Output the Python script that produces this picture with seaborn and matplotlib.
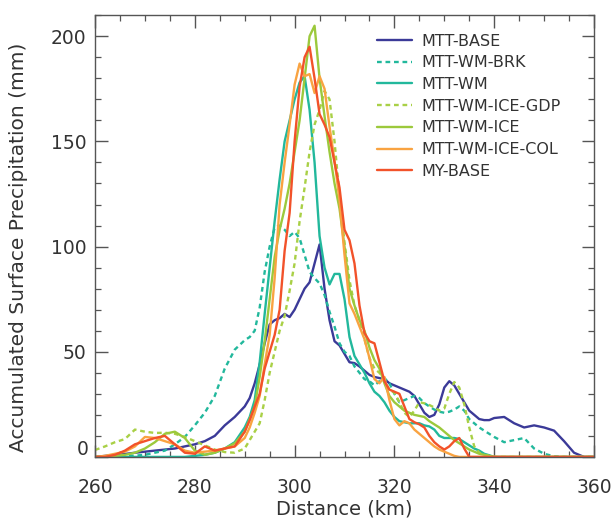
import numpy as np
import pandas as pd
import matplotlib
matplotlib.use("Agg")
import matplotlib.pyplot as plt
import seaborn as sns
from matplotlib.ticker import MultipleLocator, FuncFormatter

# distance grid (km)
distance = [260, 262, 264, 266, 268, 270, 272, 274, 276, 278, 280, 282, 284, 286, 288] + \
    list(range(290, 341)) + [342, 344, 346, 348, 350, 352, 354, 356, 358, 360]

mtt_base = [0, 0.5, 1, 1.4, 2, 2.5, 3, 3.5, 4, 5, 6, 7.5, 10, 15, 19,
            24, 28, 35, 44, 54, 63, 65, 66, 68, 66.5, 70, 75, 80, 83, 92, 101,
            80, 65, 55, 53, 49, 45, 44.6, 43, 41, 39, 38, 37.5, 37, 35, 34,
            33, 32, 31, 29, 25, 21, 19, 20, 25, 33, 36, 34, 30, 26, 22,
            20, 18, 17.5, 17.5, 18.5,
            19, 16, 14, 15, 14, 12.5, 7.5, 2, 0, 0]

mtt_wm_brk = [0, 0, 0, 0.3, 0.6, 1, 2, 3, 6, 9.5, 15, 21, 29, 42, 51,
              55.5, 57, 60, 71, 88, 100, 109, 110, 108, 105, 107, 104, 96, 88, 85, 82.5,
              77, 69, 62, 54, 50, 48, 43, 40, 37, 36, 34, 36, 37.5, 35, 30,
              26, 27, 28, 29, 28, 25.6, 24, 22.5, 21.5, 21, 21.5, 22.5, 24, 22, 18,
              16, 14, 12.5, 11, 9.5,
              7, 8, 9, 4, 1.5, 0.3, 0, 0, 0, 0]

mtt_wm = [0, 0, 0, 0, 0, 0, 0, 0, 0, 0, 0.5, 1, 2, 4, 7,
          14, 19, 27, 45, 68, 90, 112, 132, 150, 160, 170, 178, 181, 165, 140, 105,
          90, 82, 87, 87, 75, 57, 48, 44, 40, 35, 31, 29, 26, 22, 19,
          17, 16.5, 16, 16, 16, 15, 14.5, 13, 10, 9, 9, 9, 8.5, 7, 5.5,
          4, 3, 1.5, 0.8, 0,
          0, 0, 0, 0, 0, 0, 0, 0, 0, 0]

mtt_wm_ice_gdp = [3.3, 5, 7, 8.5, 13, 12, 11.4, 11.5, 11, 9.5, 7.5, 5.5, 3.5, 2.3, 2,
                  4, 8, 12, 16, 27, 40, 50, 60, 67, 79, 92, 112, 128, 145, 158, 165,
                  174, 170, 150, 124, 102, 84, 72, 65, 56, 47, 42, 40, 36, 32, 30.5,
                  26, 21, 19, 22, 26, 25.5, 24.7, 23.5, 22, 23, 30, 35.6, 33, 25, 14,
                  5, 2, 1, 0.5, 0,
                  0, 0, 0, 0, 0, 0, 0, 0, 0, 0]

mtt_wm_ice = [0, 0, 0.5, 1, 2, 4, 7, 11, 12, 9, 3, 1, 2, 4, 6.5,
              12, 18, 24, 38, 55, 75, 95, 108, 118, 130, 145, 160, 180, 200, 205, 180,
              162, 145, 130, 118, 100, 80, 72, 65, 60, 52, 46, 42, 35, 29, 26,
              24, 22, 21, 20, 19.5, 19, 17, 15.5, 14, 12, 10, 8, 6.5, 5, 3.5,
              2.5, 1.5, 1, 0.5, 0,
              0, 0, 0, 0, 0, 0, 0, 0, 0, 0]

mtt_wm_ice_col = [0, 0.5, 1.5, 2.5, 5, 9.5, 9, 7.5, 6, 3, 2, 2.5, 3, 4, 5,
                  9, 14, 21, 29, 44, 58, 85, 120, 140, 158, 177, 187, 181, 182, 173, 181,
                  175, 157, 141, 122, 96, 73, 68, 62, 56, 47, 37, 35, 38, 27, 18,
                  15, 17, 16, 13, 11, 9, 7, 5, 3.5, 2.5, 1.5, 0.5, 0, 0, 0,
                  0, 0, 0, 0, 0,
                  0, 0, 0, 0, 0, 0, 0, 0, 0, 0]

my_base = [0, 0, 1, 3, 6, 7.5, 9, 10, 6, 2, 1.5, 5, 3, 4, 5,
           12, 17.5, 24, 30, 42, 50, 58, 70, 98, 116, 150, 176, 190, 195, 180, 163,
           158, 152, 140, 128, 108, 103, 92, 72, 59, 55, 54, 45, 36, 32, 31,
           30, 24, 18, 16.5, 15.5, 14, 10, 7, 5, 3.5, 5, 7.5, 9, 4, 0,
           0, 0, 0, 0, 0,
           0, 0, 0, 0, 0, 0, 0, 0, 0, 0]

series_names = ["MTT-BASE", "MTT-WM-BRK", "MTT-WM", "MTT-WM-ICE-GDP",
                "MTT-WM-ICE", "MTT-WM-ICE-COL", "MY-BASE"]
series_values = [mtt_base, mtt_wm_brk, mtt_wm, mtt_wm_ice_gdp,
                 mtt_wm_ice, mtt_wm_ice_col, my_base]
colors = ["#3b3a98", "#22b89c", "#22b89c", "#a9d046",
          "#9cc93c", "#f9a341", "#f2522a"]
dashed = [False, True, False, True, False, False, False]

sns.set_theme(style="ticks")
plt.rcParams["font.family"] = ["DejaVu Sans"]

fig = plt.figure(figsize=(6.13, 5.24), dpi=100)
ax = fig.add_axes([0.155, 0.128, 0.814, 0.843])

for name, vals, col, dsh in zip(series_names, series_values, colors, dashed):
    df = pd.DataFrame({"Distance": distance, "Precip": vals})
    sns.lineplot(data=df, x="Distance", y="Precip", ax=ax, color=col,
                 linewidth=1.7, label=name, legend=False)
    line = ax.lines[-1]
    if dsh:
        line.set_dashes((2.0, 1.6))

ax.set_xlim(260, 360)
ax.set_ylim(0, 210)
ax.xaxis.set_major_locator(MultipleLocator(20))
ax.xaxis.set_minor_locator(MultipleLocator(5))
ax.yaxis.set_major_locator(MultipleLocator(50))
ax.yaxis.set_minor_locator(MultipleLocator(10))
ax.yaxis.set_major_formatter(FuncFormatter(lambda v, p: "" if abs(v) < 1e-9 else f"{v:.0f}"))
ax.tick_params(which="both", direction="in", top=True, right=True,
               color="#555555", labelcolor="#333333")
ax.tick_params(which="major", length=9, width=1.0, labelsize=13.5)
ax.tick_params(axis="x", which="major", pad=15)
ax.tick_params(axis="y", which="major", pad=6)
ax.tick_params(which="minor", length=4.5, width=0.9)
for sp in ax.spines.values():
    sp.set_color("#555555")
    sp.set_linewidth(1.0)

# zero label of the y axis sits slightly above the axis, as in the original
ax.annotate("0", xy=(0, 0), xycoords=("axes fraction", "data"),
            xytext=(-4.5, 5), textcoords="offset points",
            ha="right", va="center", fontsize=13.5, color="#333333")

ax.set_xlabel("Distance (km)", fontsize=14, color="#333333", labelpad=2)
ax.set_ylabel("Accumulated Surface Precipitation (mm)", fontsize=14.5,
              color="#333333")
ax.yaxis.set_label_coords(-0.135, 0.475)

handles, labels = ax.get_legend_handles_labels()
leg = ax.legend(handles, labels, loc="upper left", bbox_to_anchor=(0.545, 0.98),
                frameon=False, fontsize=11.5, handlelength=2.2, handletextpad=0.6,
                labelspacing=0.42, labelcolor="#333333", borderaxespad=0.2)

fig.savefig("out.png", dpi=100)
